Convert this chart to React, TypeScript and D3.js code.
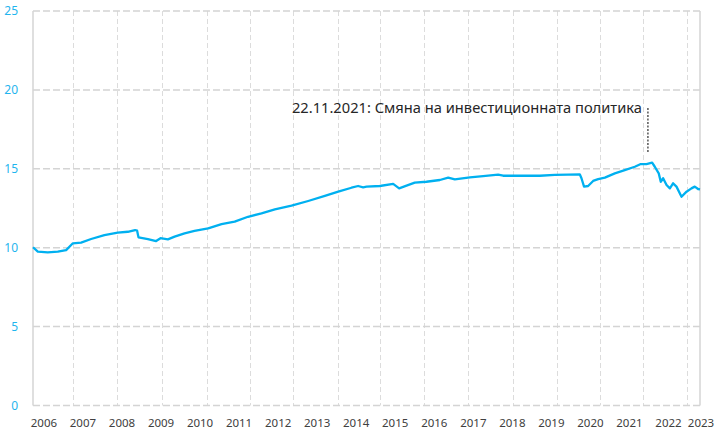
import * as d3 from "d3";

const dates = [
  "2006-02-20", "2006-04-06", "2006-07-08", "2006-10-10", "2006-12-27",
  "2007-02-28", "2007-05-16", "2007-08-18", "2007-12-20", "2008-04-23",
  "2008-07-26", "2008-10-02", "2008-10-21", "2008-11-03", "2009-01-30",
  "2009-04-17", "2009-05-28", "2009-08-05", "2009-10-07", "2010-01-08",
  "2010-04-11", "2010-08-17", "2010-12-20", "2011-04-22", "2011-08-25",
  "2011-12-29", "2012-05-02", "2012-10-05", "2013-03-10", "2013-08-13",
  "2013-12-16", "2014-04-19", "2014-06-20", "2014-08-06", "2014-09-07",
  "2015-01-09", "2015-05-14", "2015-07-09", "2015-09-16", "2015-12-02",
  "2016-03-20", "2016-07-24", "2016-10-10", "2016-12-11", "2017-05-01",
  "2017-09-02", "2018-01-20", "2018-03-08", "2018-08-11", "2019-02-14",
  "2019-07-04", "2019-11-05", "2020-02-23", "2020-03-10", "2020-04-03",
  "2020-05-11", "2020-06-27", "2020-08-13", "2020-10-15", "2021-01-16",
  "2021-04-19", "2021-07-22", "2021-09-16", "2021-11-08", "2021-12-31",
  "2022-01-25", "2022-03-03", "2022-03-22", "2022-04-13", "2022-05-15",
  "2022-06-15", "2022-07-15", "2022-08-16", "2022-10-02", "2022-11-18",
  "2023-01-03", "2023-02-03", "2023-03-06", "2023-03-24",
];

const values = [
  10.03, 9.75, 9.71, 9.75, 9.85,
  10.28, 10.32, 10.55, 10.8, 10.95,
  11.01, 11.12, 11.08, 10.66, 10.55,
  10.42, 10.6, 10.53, 10.7, 10.91,
  11.06, 11.23, 11.5, 11.65, 11.96,
  12.18, 12.43, 12.66, 12.96, 13.28,
  13.55, 13.8, 13.91, 13.83, 13.87,
  13.91, 14.04, 13.76, 13.93, 14.12,
  14.18, 14.29, 14.44, 14.33, 14.46,
  14.54, 14.63, 14.56, 14.56, 14.56,
  14.61, 14.63, 14.65, 14.4, 13.87,
  13.91, 14.23, 14.35, 14.44, 14.71,
  14.92, 15.13, 15.3, 15.3, 15.39,
  15.13, 14.71, 14.18, 14.4, 13.97,
  13.76, 14.08, 13.87, 13.23, 13.55,
  13.76, 13.87, 13.72, 13.7,
];

const yTicks = [0, 5, 10, 15, 20, 25];
const yearLabels = d3.range(2006, 2024);
const gridDates = [
  "2007-02-28", "2008-04-15", "2009-06-10", "2010-08-05", "2011-09-11",
  "2012-10-18", "2013-12-13", "2015-01-09", "2016-02-25", "2017-04-12",
  "2018-06-07", "2019-07-23", "2020-08-29", "2021-10-05", "2022-11-20",
];
const eventDate = "2021-11-22";
const eventText = "22.11.2021: Смяна на инвестиционната политика";

const parse = d3.timeParse("%Y-%m-%d");

export default function App() {
  const width = 715;
  const height = 430;
  const left = 33;
  const right = 700;
  const top = 11;
  const bottom = 405.5;

  const x = d3
    .scaleTime()
    .domain([parse("2006-02-20")!, parse("2023-03-24")!])
    .range([left, right]);
  const y = d3.scaleLinear().domain([0, 25]).range([bottom, top]);

  const points = dates.map((d, i) => ({ date: parse(d)!, value: values[i] }));
  const path =
    d3
      .line<{ date: Date; value: number }>()
      .x((d) => x(d.date))
      .y((d) => y(d.value))(points) ?? "";

  const ex = x(parse(eventDate)!);
  const font = "'Noto Sans', 'Open Sans', sans-serif";

  return (
    <svg
      width={width}
      height={height}
      viewBox={`0 0 ${width} ${height}`}
      style={{ position: "absolute", left: 0, top: 0, background: "#fff" }}
    >
      {gridDates.map((d) => {
        const gx = Math.round(x(parse(d)!)) + 0.5;
        return (
          <line
            key={d}
            x1={gx}
            x2={gx}
            y1={top}
            y2={bottom}
            stroke="#dcdcdc"
            strokeWidth={1}
            strokeDasharray="5 3"
          />
        );
      })}
      {yTicks.map((t) => (
        <line
          key={t}
          x1={left}
          x2={right}
          y1={y(t)}
          y2={y(t)}
          stroke="#d4d4d4"
          strokeWidth={1.5}
          strokeDasharray="7 3"
        />
      ))}
      <line x1={left} x2={left} y1={top} y2={bottom} stroke="#d4d4d4" strokeWidth={1.5} />
      <line x1={right} x2={right} y1={top} y2={bottom} stroke="#d4d4d4" strokeWidth={1.5} />

      {yTicks.map((t) => (
        <text
          key={t}
          x={18}
          y={y(t)}
          dy="0.35em"
          textAnchor="end"
          fill="#1fb5ee"
          fontFamily={font}
          fontSize={12}
        >
          {t}
        </text>
      ))}
      {yearLabels.map((yr) => (
        <text
          key={yr}
          x={Math.min(x(parse(`${yr}-06-02`)!), 701)}
          y={427}
          textAnchor="middle"
          fill="#404040"
          fontFamily={font}
          fontSize={11.5}
        >
          {yr}
        </text>
      ))}

      <path d={path} fill="none" stroke="#00b0f0" strokeWidth={2.3} strokeLinejoin="round" />

      <line
        x1={ex}
        x2={ex}
        y1={108}
        y2={153}
        stroke="#000"
        strokeWidth={1}
        strokeDasharray="2 1.5"
      />
      <text
        x={ex - 6}
        y={113}
        textAnchor="end"
        fill="#262626"
        fontFamily={font}
        fontSize={14.5}
        textLength={350}
        lengthAdjust="spacingAndGlyphs"
      >
        {eventText}
      </text>
    </svg>
  );
}
